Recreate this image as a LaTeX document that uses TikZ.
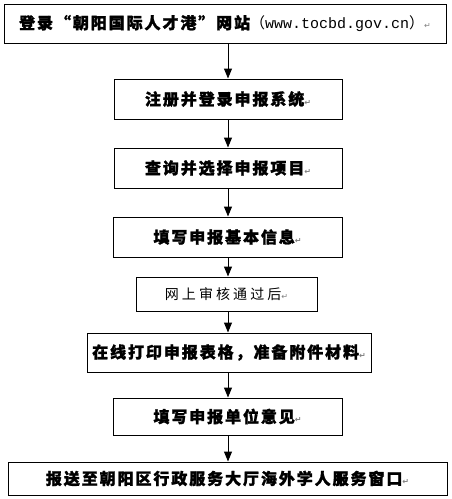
\documentclass[tikz,border=0pt]{standalone}
\usepackage{fontspec}
\usetikzlibrary{arrows.meta}
\newfontfamily\cjk[LetterSpace=12, BoldFeatures={FakeBold=1.5}]{Noto Sans CJK SC}
\newfontfamily\cjkr[LetterSpace=22]{Noto Sans CJK SC}
\newfontfamily\monof{Liberation Mono}
\newfontfamily\symf{DejaVu Sans}
\newcommand{\parmark}{{\symf\fontsize{8}{8}\selectfont\color{gray}↵}}
\tikzset{
  box/.style={draw=black, line width=1pt, rectangle, inner sep=0pt, align=center},
  bt/.style={font=\cjk\bfseries\fontsize{16}{18}\selectfont},
  arr/.style={line width=1pt, -{Triangle[length=10pt,width=8pt]}}
}
\begin{document}
\begin{tikzpicture}[x=1pt,y=-1pt]
\useasboundingbox (0,0) rectangle (452,499);
\coordinate (ax) at (228,0);
\node[box, minimum width=442pt, minimum height=39pt] (b1) at (225,23.5)
  {{\cjk\bfseries\fontsize{16}{18}\selectfont 登录“朝阳国际人才港”网站}{\cjkr\fontsize{15}{18}\selectfont （}{\monof\fontsize{15}{18}\selectfont www.tocbd.gov.cn}{\cjkr\fontsize{15}{18}\selectfont ）}\parmark};
\node[box, bt, minimum width=228pt, minimum height=40pt] (b2) at (228,99) {注册并登录申报系统\parmark};
\node[box, bt, minimum width=228pt, minimum height=40pt] (b3) at (228,168) {查询并选择申报项目\parmark};
\node[box, bt, minimum width=229pt, minimum height=40pt] (b4) at (227.5,237) {填写申报基本信息\parmark};
\node[box, font=\cjkr\fontsize{14}{16}\selectfont, minimum width=181pt, minimum height=34pt] (b5) at (226.5,294) {网上审核通过后\parmark};
\node[box, bt, minimum width=284pt, minimum height=39pt] (b6) at (229,352.5) {在线打印申报表格，准备附件材料\parmark};
\node[box, bt, minimum width=229pt, minimum height=37pt] (b7) at (227.5,416.5) {填写申报单位意见\parmark};
\node[box, bt, minimum width=439pt, minimum height=33pt] (b8) at (227.5,478.5) {报送至朝阳区行政服务大厅海外学人服务窗口\parmark};
\draw[arr] (b1.south -| ax) -- (b2.north -| ax);
\draw[arr] (b2.south -| ax) -- (b3.north -| ax);
\draw[arr] (b3.south -| ax) -- (b4.north -| ax);
\draw[arr] (b4.south -| ax) -- (b5.north -| ax);
\draw[arr] (b5.south -| ax) -- (b6.north -| ax);
\draw[arr] (b6.south -| ax) -- (b7.north -| ax);
\draw[arr] (b7.south -| ax) -- (b8.north -| ax);
\end{tikzpicture}
\end{document}
